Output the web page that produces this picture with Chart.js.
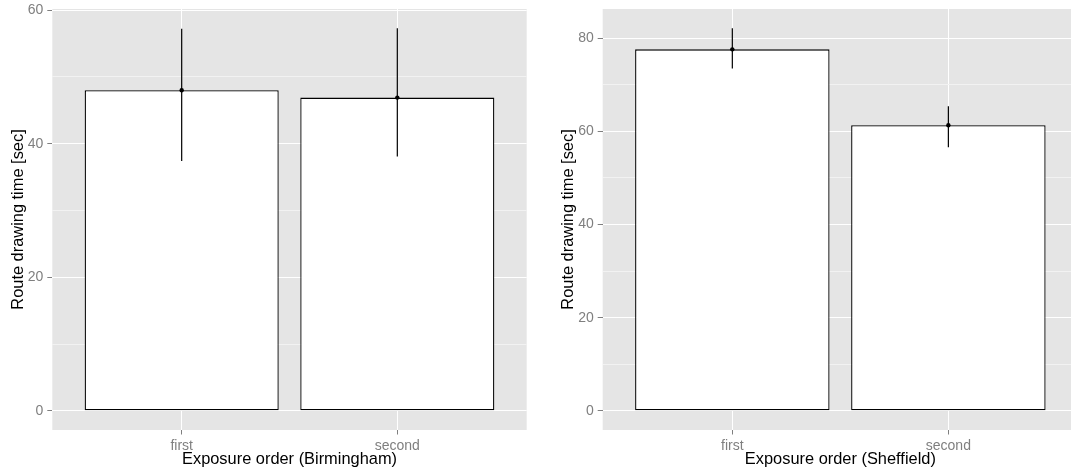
<!DOCTYPE html>
<html><head><meta charset="utf-8">
<script src="https://cdn.jsdelivr.net/npm/chart.js@4.4.0/dist/chart.umd.min.js"></script>
<style>
html,body{margin:0;padding:0;overflow:hidden;background:#fff;width:1071px;height:470px;}
canvas{position:absolute;top:0;}
#c1{left:0}
#c2{left:550px}
</style></head><body>
<canvas id="c1" width="540" height="470"></canvas>
<canvas id="c2" width="528" height="470"></canvas>
<script>
const categories = ['first', 'second'];
const birminghamMean = [48.0, 46.9];
const birminghamLow = [37.4, 38.1];
const birminghamHigh = [57.2, 57.3];
const sheffieldMean = [77.6, 61.3];
const sheffieldLow = [73.5, 56.6];
const sheffieldHigh = [82.15, 65.4];
const birminghamTicks = [0, 20, 40, 60];
const sheffieldTicks = [0, 20, 40, 60, 80];
const yTitle = 'Route drawing time [sec]';

Chart.defaults.font.family = "'Liberation Sans', Arial, sans-serif";

const bgPlugin = {
  id: 'panelBg',
  beforeDraw(chart) {
    const {ctx, chartArea: a} = chart;
    ctx.save();
    ctx.fillStyle = '#E5E5E5';
    ctx.fillRect(a.left, a.top, a.right - a.left, a.bottom - a.top);
    ctx.restore();
  }
};

function makeChart(id, mean, low, high, majorTicks, xTitle, yW, padRight) {
  const top = Math.max(...high);
  const yMax = top * 1.05, yMin = -top * 0.05;
  const isMajor = v => majorTicks.includes(v);
  return new Chart(document.getElementById(id), {
    type: 'bar',
    data: {
      datasets: [
        {type: 'line', data: mean.map((v, i) => ({x: i, y: v})), showLine: false,
         pointRadius: 2.2, pointBackgroundColor: '#000', pointBorderWidth: 0, order: 0},
        {type: 'bar', data: low.map((v, i) => ({x: i, y: [v, high[i]]})), backgroundColor: '#000',
         borderWidth: 0, barThickness: 1.2, grouped: false, inflateAmount: 0, order: 1},
        {type: 'bar', data: mean.map((v, i) => ({x: i, y: v})), backgroundColor: '#fff',
         borderColor: '#000', borderWidth: 1.3, borderSkipped: false, barPercentage: 0.9,
         categoryPercentage: 1, grouped: false, inflateAmount: 0, order: 2}
      ]
    },
    options: {
      responsive: false, animation: false, events: [],
      layout: {padding: {left: 0, top: 9, right: padRight, bottom: 0}, autoPadding: false},
      plugins: {legend: {display: false}, tooltip: {enabled: false}},
      scales: {
        x: {
          type: 'linear', min: -0.6, max: 1.6, offset: false,
          ticks: {stepSize: 1, includeBounds: false, color: '#7F7F7F', font: {size: 14}, padding: 3,
                  maxRotation: 0, autoSkip: false, callback: v => (categories[v] !== undefined ? categories[v] : '')},
          grid: {offset: false, color: '#FFFFFF', lineWidth: 1, tickColor: '#7F7F7F', tickLength: 4.5},
          border: {display: false},
          title: {display: true, text: xTitle, color: '#000', font: {size: 16.4}, padding: {top: 0, bottom: 0.6}},
          afterFit(s) { s.height = 40; s.paddingLeft = 0; s.paddingRight = 0; }
        },
        y: {
          type: 'linear', min: yMin, max: yMax,
          ticks: {stepSize: 10, includeBounds: false, color: '#7F7F7F', font: {size: 14}, padding: 4,
                  callback: v => (isMajor(v) ? String(v) : '')},
          grid: {
            color: c => (c.tick && isMajor(c.tick.value) ? '#FFFFFF' : '#F2F2F2'),
            lineWidth: 1,
            tickColor: c => (c.tick && isMajor(c.tick.value) ? '#7F7F7F' : 'rgba(0,0,0,0)'),
            tickLength: 5
          },
          border: {display: false},
          title: {display: true, text: yTitle, color: '#000', font: {size: 16.4}, padding: {top: 8.5, bottom: 0}},
          afterFit(s) { s.width = yW; s.paddingTop = 0; s.paddingBottom = 0; }
        }
      }
    },
    plugins: [bgPlugin]
  });
}

makeChart('c1', birminghamMean, birminghamLow, birminghamHigh, birminghamTicks, 'Exposure order (Birmingham)', 52.3, 13.3);
makeChart('c2', sheffieldMean, sheffieldLow, sheffieldHigh, sheffieldTicks, 'Exposure order (Sheffield)', 52.7, 0);
</script>
</body></html>
